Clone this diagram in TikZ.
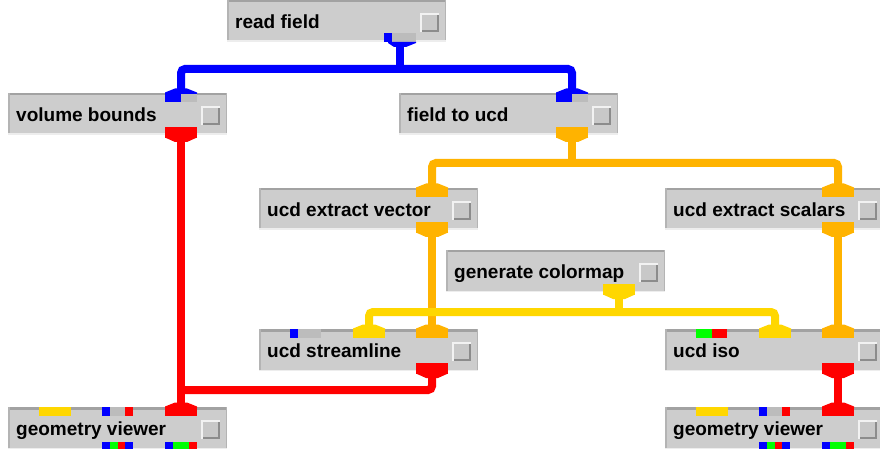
\documentclass[tikz,border=0pt]{standalone}
\usepackage{fontspec}
\setmainfont{Liberation Sans}
\definecolor{boxgray}{HTML}{CDCDCD}
\definecolor{edgedark}{HTML}{A2A2A2}
\definecolor{edgemid}{HTML}{B4B4B4}
\definecolor{edgelight}{HTML}{EDEDED}
\definecolor{btnlight}{HTML}{F2F2F2}
\definecolor{btndark}{HTML}{8C8C8C}
\definecolor{btnface}{HTML}{C8C8C8}
\definecolor{portgray}{HTML}{BCBCBC}
\definecolor{avsblue}{HTML}{0000FF}
\definecolor{avsred}{HTML}{FF0000}
\definecolor{avsorange}{HTML}{FFB300}
\definecolor{avsyellow}{HTML}{FFD700}
\definecolor{avsgreen}{HTML}{00FF00}
\tikzset{
  conn/.style={line width=8pt, rounded corners=4pt},
  modtext/.style={font=\bfseries\fontsize{19}{22}\selectfont, inner sep=0pt, anchor=base west, text=black},
}
% module: name, left x, top y, label
\newcommand\avsmodule[4]{%
  \fill[boxgray] (#2,#3) rectangle ++(219,42);
  \fill[edgedark] (#2,#3) rectangle ++(219,2.5);
  \fill[edgemid] (#2,#3) rectangle ++(1.5,42);
  \fill[edgemid] (#2+217.5,#3) rectangle ++(1.5,42);
  \fill[edgelight] (#2,#3+40.5) rectangle ++(219,1.5);
  \node[modtext] (#1) at (#2+8,#3+28.5) {#4};
  \fill[btnlight] (#2+193,#3+13) rectangle ++(19,19);
  \fill[btndark] (#2+195,#3+15) rectangle ++(17,17);
  \fill[btnface] (#2+195,#3+15) rectangle ++(15,15);
  \coordinate (#1-a) at (#2+47,#3);
  \coordinate (#1-b) at (#2+110,#3);
  \coordinate (#1-c) at (#2+173,#3);
  \coordinate (#1-o) at (#2+173,#3+42);
}
% input taper: center x, top y, colour
\newcommand\intaper[3]{%
  \fill[#3] (#1-16,#2+1) -- (#1-16,#2-0.5) -- (#1-6,#2-4.5) -- (#1+6,#2-4.5) -- (#1+16,#2-0.5) -- (#1+16,#2+1) -- cycle;}
% output block + taper: center x, bottom y, colour
\newcommand\outport[3]{%
  \fill[#3] (#1-16,#2-8) rectangle (#1+16,#2+3);
  \fill[#3] (#1-16,#2+2.5) -- (#1-6,#2+7) -- (#1+6,#2+7) -- (#1+16,#2+2.5) -- cycle;}
% segment: x1, x2, y1, y2, colour
\newcommand\seg[5]{\fill[#5] (#1,#3) rectangle (#2,#4);}
\begin{document}
\begin{tikzpicture}[x=1pt,y=-1pt]
\useasboundingbox (0,0) rectangle (880,454);
\clip (0,0) rectangle (880,454);
\fill[white] (0,0) rectangle (880,454);

\avsmodule{rf}{227}{0}{read field}
\avsmodule{vb}{8}{93}{volume bounds}
\avsmodule{fu}{399}{93}{field to ucd}
\avsmodule{ev}{259}{188}{ucd extract vector}
\avsmodule{es}{665}{188}{ucd extract scalars}
\avsmodule{gc}{446}{250}{generate colormap}
\avsmodule{us}{259}{329}{ucd streamline}
\avsmodule{iso}{665}{329}{ucd iso}
\avsmodule{gvl}{8}{407}{geometry viewer}
\avsmodule{gvr}{665}{407}{geometry viewer}

\coordinate (bluebus) at (400,69);
\coordinate (orangebus) at (572,163);
\coordinate (yellowbus) at (619,312);
\coordinate (redjoin) at (181,390);

% connectors
\draw[conn, avsblue] (vb-c) |- (bluebus) -| (fu-c);
\draw[conn, avsblue] (rf-o) -- (bluebus);
\draw[conn, avsred] (vb-o) -- (gvl-c);
\draw[conn, avsred] (us-o) |- (redjoin);
\draw[conn, avsred] (iso-o) -- (gvr-c);
\draw[conn, avsorange] (ev-c) |- (orangebus) -| (es-c);
\draw[conn, avsorange] (fu-o) -- (orangebus);
\draw[conn, avsorange] (ev-o) -- (us-c);
\draw[conn, avsorange] (es-o) -- (iso-c);
\draw[conn, avsyellow] (us-b) |- (yellowbus) -| (iso-b);
\draw[conn, avsyellow] (gc-o) -- (yellowbus);

% read field output
\seg{384}{392}{33}{42}{avsblue}
\seg{392}{416}{33}{42}{portgray}
\fill[avsblue] (388,42) -- (416,42) -- (416,43) -- (406,47) -- (394,47) -- (388,43) -- cycle;

% volume bounds
\seg{165}{181}{93}{102}{avsblue}
\seg{181}{197}{93}{102}{portgray}
\intaper{181}{93}{avsblue}
\outport{181}{135}{avsred}

% field to ucd
\seg{556}{572}{93}{102}{avsblue}
\seg{572}{588}{93}{102}{portgray}
\intaper{572}{93}{avsblue}
\outport{572}{135}{avsorange}

% ucd extract vector
\seg{416}{448}{188}{197}{avsorange}
\intaper{432}{188}{avsorange}
\outport{432}{230}{avsorange}

% ucd extract scalars
\seg{822}{854}{188}{197}{avsorange}
\intaper{838}{188}{avsorange}
\outport{838}{230}{avsorange}

% generate colormap
\outport{619}{292}{avsyellow}

% ucd streamline
\seg{290}{298}{329}{338}{avsblue}
\seg{298}{321}{329}{338}{portgray}
\seg{353}{385}{329}{338}{avsyellow}
\intaper{369}{329}{avsyellow}
\seg{416}{448}{329}{338}{avsorange}
\intaper{432}{329}{avsorange}
\outport{432}{371}{avsred}

% ucd iso
\seg{696}{712}{329}{338}{avsgreen}
\seg{712}{727}{329}{338}{avsred}
\seg{759}{791}{329}{338}{avsyellow}
\intaper{775}{329}{avsyellow}
\seg{822}{854}{329}{338}{avsorange}
\intaper{838}{329}{avsorange}
\outport{838}{371}{avsred}

% geometry viewer left
\seg{39}{71}{407}{416}{avsyellow}
\seg{102}{110}{407}{416}{avsblue}
\seg{110}{125}{407}{416}{portgray}
\seg{125}{133}{407}{416}{avsred}
\seg{165}{197}{407}{416}{avsred}
\intaper{181}{407}{avsred}
\seg{102}{110}{442}{449}{avsblue}
\seg{110}{118}{442}{449}{avsgreen}
\seg{118}{125}{442}{449}{avsred}
\seg{125}{133}{442}{449}{avsblue}
\seg{165}{173}{442}{449}{avsblue}
\seg{173}{189}{442}{449}{avsgreen}
\seg{189}{197}{442}{449}{avsred}

% geometry viewer right
\seg{696}{728}{407}{416}{avsyellow}
\seg{759}{767}{407}{416}{avsblue}
\seg{767}{782}{407}{416}{portgray}
\seg{782}{790}{407}{416}{avsred}
\seg{822}{854}{407}{416}{avsred}
\intaper{838}{407}{avsred}
\seg{759}{767}{442}{449}{avsblue}
\seg{767}{775}{442}{449}{avsgreen}
\seg{775}{782}{442}{449}{avsred}
\seg{782}{790}{442}{449}{avsblue}
\seg{822}{830}{442}{449}{avsblue}
\seg{830}{846}{442}{449}{avsgreen}
\seg{846}{854}{442}{449}{avsred}
\end{tikzpicture}
\end{document}
